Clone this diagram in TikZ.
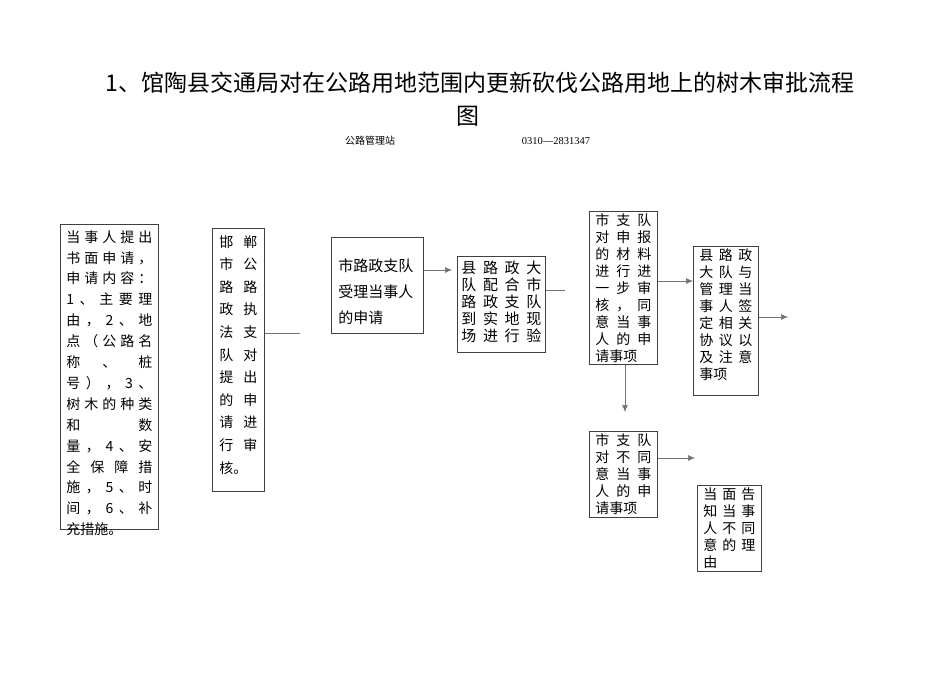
\documentclass[tikz,border=0pt]{standalone}
\usepackage{fontspec}
\setmainfont{Liberation Serif}
\newfontfamily\cjk{Noto Sans CJK SC}
\usetikzlibrary{arrows.meta}
\newcommand{\rw}[1]{\makebox[\linewidth][s]{#1}\par}
\newcommand{\rl}[1]{#1\par}
\tikzset{
 box/.style={draw=black!75,line width=0.8pt,inner sep=0pt,anchor=north west},
 conn/.style={draw=black!55,line width=0.6pt},
 arr/.style={conn,-{Latex[length=7pt,width=6pt]},shorten >=0pt}
}
% \bxt{w}{h}{pad}{size}{skip}{content}
\newcommand{\bxt}[6]{\parbox[t][#2pt][t]{#1pt}{\vspace*{#3pt}\hspace*{#3pt}\parbox[t]{\dimexpr#1pt-2\dimexpr#3pt\relax}{\cjk\fontsize{#4}{#5}\selectfont\raggedright #6}}}
\begin{document}
\begin{tikzpicture}[x=1pt,y=-1pt]
\useasboundingbox (0,0) rectangle (950,672);
\node[anchor=center] (t1) at (480,83) {\cjk\fontsize{23}{26}\selectfont 1、馆陶县交通局对在公路用地范围内更新砍伐公路用地上的树木审批流程};
\node[anchor=center] (t2) at (468,116) {\cjk\fontsize{23}{26}\selectfont 图};
\node[anchor=center] (s1) at (370,141) {\cjk\fontsize{10}{12}\selectfont 公路管理站};
\node[anchor=center] (s2) at (556,141) {\fontsize{10.5}{12}\selectfont 0310—2831347};

\node[box] (b1) at (60,224) {\bxt{98}{305}{6}{14}{20.9}{%
\rw{当 事 人 提 出}\rw{书 面 申 请 ，}\rw{申 请 内 容 ：}\rw{1 、 主 要 理}\rw{由 ， 2 、 地}\rw{点 （ 公 路 名}\rw{称 、 桩}\rw{号 ） ， 3 、}\rw{树 木 的 种 类}\rw{和 数}\rw{量 ， 4 、 安}\rw{全 保 障 措}\rw{施 ， 5 、 时}\rw{间 ， 6 、 补}\rl{充措施。}}};
\node[box] (b2) at (212,228) {\bxt{52}{263}{7}{14}{22.6}{%
\rw{邯 郸}\rw{市 公}\rw{路 路}\rw{政 执}\rw{法 支}\rw{队 对}\rw{提 出}\rw{的 申}\rw{请 进}\rw{行 审}\rl{核。}}};
\node[box] (b3) at (331,237) {\bxt{92}{96}{7}{15}{26}{\vspace*{14pt}%
\rl{市路政支队}\rl{受理当事人}\rl{的申请}}};
\node[box] (b4) at (457,256) {\bxt{88}{96}{4}{15}{17}{%
\rw{县 路 政 大}\rw{队 配 合 市}\rw{路 政 支 队}\rw{到 实 地 现}\rw{场 进 行 验}}};
\node[box] (b5) at (589,211) {\bxt{68}{153}{6}{14}{17}{\vspace*{-4pt}%
\rw{市 支 队}\rw{对 申 报}\rw{的 材 料}\rw{进 行 进}\rw{一 步 审}\rw{核 ， 同}\rw{意 当 事}\rw{人 的 申}\rl{请事项}}};
\node[box] (b6) at (693,246) {\bxt{65}{149}{6}{14}{17}{\vspace*{-4pt}%
\rw{县 路 政}\rw{大 队 与}\rw{管 理 当}\rw{事 人 签}\rw{定 相 关}\rw{协 议 以}\rw{及 注 意}\rl{事项}}};
\node[box] (b7) at (589,431) {\bxt{68}{86}{6}{14}{17}{\vspace*{-4pt}%
\rw{市 支 队}\rw{对 不 同}\rw{意 当 事}\rw{人 的 申}\rl{请事项}}};
\node[box] (b8) at (697,485) {\bxt{64}{86}{6}{14}{17}{\vspace*{-4pt}%
\rw{当 面 告}\rw{知 当 事}\rw{人 不 同}\rw{意 的 理}\rl{由}}};

\coordinate (c2) at (300,333);
\coordinate (c4) at (565,290);
\coordinate (c6) at (788,317);
\coordinate (c7) at (695,458);
\draw[conn] (b2.east |- c2) -- (c2);
\draw[arr] (b3.east |- 0,270) -- (452,270);
\draw[conn] (b4.east |- c4) -- (c4);
\draw[arr] (b5.east |- 0,281) -- (b6.west |- 0,281);
\draw[arr] (b6.east |- c6) -- (c6);
\draw[arr] (b5.south -| 625,0) -- (625,412);
\draw[arr] (b7.east |- c7) -- (c7);
\end{tikzpicture}
\end{document}
